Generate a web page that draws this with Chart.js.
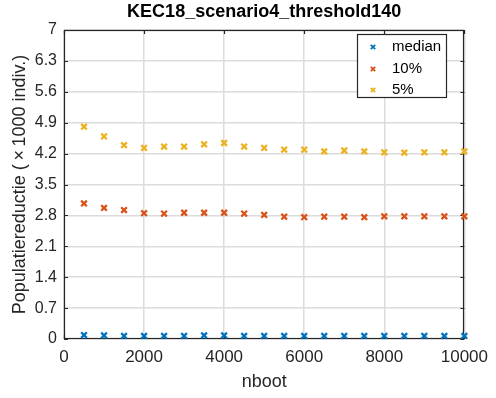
<!DOCTYPE html>
<html><head><meta charset="utf-8">
<script src="https://cdn.jsdelivr.net/npm/chart.js@4/dist/chart.umd.min.js"></script>
<style>html,body{margin:0;padding:0;background:#fff}</style>
</head><body>
<canvas id="c" width="496" height="398"></canvas>
<script>
const nboot = [500,1000,1500,2000,2500,3000,3500,4000,4500,5000,5500,6000,6500,7000,7500,8000,8500,9000,9500,10000];
const medianVals = [0.09,0.08,0.07,0.07,0.07,0.07,0.08,0.08,0.07,0.07,0.07,0.07,0.07,0.07,0.07,0.07,0.07,0.07,0.07,0.07];
const p10Vals = [3.07,2.97,2.92,2.85,2.84,2.86,2.86,2.86,2.84,2.81,2.77,2.76,2.77,2.77,2.76,2.78,2.78,2.78,2.78,2.78];
const p5Vals = [4.81,4.59,4.39,4.33,4.36,4.36,4.41,4.44,4.36,4.33,4.29,4.29,4.25,4.27,4.25,4.23,4.22,4.23,4.23,4.25];
const yTicks = [0,0.7,1.4,2.1,2.8,3.5,4.2,4.9,5.6,6.3,7];
const yTickLabels = ['0','0.7','1.4','2.1','2.8','3.5','4.2','4.9','5.6','6.3','7'];
const xTicks = [0,2000,4000,6000,8000,10000];
const xTickLabels = ['0','2000','4000','6000','8000','10000'];
const seriesNames = ['median','10%','5%'];
const seriesColors = ['#0072BD','#D95319','#EDB120'];
const titleText = 'KEC18_scenario4_threshold140';
const xTitle = 'nboot';
const yTitle = 'Populatiereductie (\u2009\u00D7\u20091000 indiv.)';

const FONT = "'Liberation Sans', Arial, Helvetica, sans-serif";
const INK = '#262626';

function mk(vals, i) {
  return {
    label: seriesNames[i],
    data: nboot.map((x, k) => ({x: x, y: vals[k]})),
    pointStyle: 'crossRot',
    pointRadius: 4,
    pointHoverRadius: 4,
    borderColor: seriesColors[i],
    backgroundColor: seriesColors[i],
    pointBorderWidth: 2.3,
    showLine: false,
    clip: false
  };
}

const boxPlugin = {
  id: 'box',
  beforeDatasetsDraw(chart) {
    const {ctx, chartArea: a, scales} = chart;
    ctx.save();
    ctx.strokeStyle = INK;
    ctx.lineWidth = 1.2;
    ctx.strokeRect(Math.round(a.left) + 0.5, Math.round(a.top) + 0.5, Math.round(a.right - a.left) - 1, Math.round(a.bottom - a.top) - 1);
    const tl = 4;
    ctx.beginPath();
    yTicks.forEach(v => {
      const y = Math.round(scales.y.getPixelForValue(v)) + 0.5;
      ctx.moveTo(a.left, y); ctx.lineTo(a.left + tl, y);
      ctx.moveTo(a.right, y); ctx.lineTo(a.right - tl, y);
    });
    xTicks.forEach(v => {
      const x = Math.round(scales.x.getPixelForValue(v)) + 0.5;
      ctx.moveTo(x, a.bottom); ctx.lineTo(x, a.bottom - tl);
      ctx.moveTo(x, a.top); ctx.lineTo(x, a.top + tl);
    });
    ctx.stroke();
    ctx.restore();
  }
};

const legendPlugin = {
  id: 'legendBox',
  afterDatasetsDraw(chart) {
    const {ctx} = chart;
    const bx = 357.5, by = 34.5, bw = 89, bh = 63;
    ctx.save();
    ctx.fillStyle = '#fff';
    ctx.fillRect(bx, by, bw, bh);
    ctx.strokeStyle = INK;
    ctx.lineWidth = 1.2;
    ctx.strokeRect(bx, by, bw, bh);
    const rows = [47, 69, 90];
    ctx.font = '15px ' + FONT;
    ctx.textBaseline = 'middle';
    ctx.textAlign = 'left';
    seriesNames.forEach((name, i) => {
      const y = rows[i], x = 373, r = 2.2;
      ctx.strokeStyle = seriesColors[i];
      ctx.lineWidth = 1.8;
      ctx.beginPath();
      ctx.moveTo(x - r, y - r); ctx.lineTo(x + r, y + r);
      ctx.moveTo(x + r, y - r); ctx.lineTo(x - r, y + r);
      ctx.stroke();
      ctx.fillStyle = '#000';
      ctx.fillText(name, 392, y);
    });
    ctx.restore();
  }
};

new Chart(document.getElementById('c'), {
  type: 'scatter',
  data: { datasets: [mk(medianVals, 0), mk(p10Vals, 1), mk(p5Vals, 2)] },
  options: {
    responsive: false,
    animation: false,
    events: [],
    layout: { padding: { left: 0, right: 26, top: 0, bottom: 0 } },
    plugins: {
      legend: { display: false },
      tooltip: { enabled: false },
      title: {
        display: true,
        text: titleText,
        fullSize: false,
        color: '#000',
        font: { family: FONT, size: 18, weight: 'bold', lineHeight: 1.2 },
        padding: { top: 1.5, bottom: 6.9 }
      }
    },
    scales: {
      x: {
        type: 'linear',
        min: 0, max: 10000,
        afterBuildTicks: s => { s.ticks = xTicks.map(v => ({value: v})); },
        afterFit: s => { s.height = 59; },
        ticks: {
          autoSkip: false, maxRotation: 0, minRotation: 0,
          padding: 8,
          color: INK,
          font: { family: FONT, size: 17 },
          callback: (v, i) => xTickLabels[i]
        },
        grid: { color: '#dcdcdc', lineWidth: 1.5, drawTicks: false },
        border: { display: false },
        title: {
          display: true, text: xTitle, color: INK,
          font: { family: FONT, size: 18, lineHeight: 1.2 },
          padding: { top: 0, bottom: 5.2 }
        }
      },
      y: {
        type: 'linear',
        min: 0, max: 7,
        afterBuildTicks: s => { s.ticks = yTicks.map(v => ({value: v})); },
        afterFit: s => { s.width = 64; },
        ticks: {
          autoSkip: false,
          padding: 7,
          color: INK,
          font: { family: FONT, size: 16 },
          callback: (v, i) => yTickLabels[i]
        },
        grid: { color: '#dcdcdc', lineWidth: 1.5, drawTicks: false },
        border: { display: false },
        title: {
          display: true, text: yTitle, color: INK,
          font: { family: FONT, size: 18, lineHeight: 1.2 },
          padding: { top: 9.2, bottom: 0 }
        }
      }
    }
  },
  plugins: [boxPlugin, legendPlugin]
});
</script>
</body></html>
